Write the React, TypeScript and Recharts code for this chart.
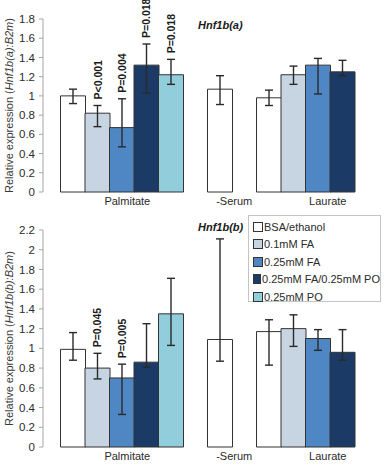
import React from "react";
import { BarChart, Bar, XAxis, YAxis, Cell, ErrorBar, LabelList } from "recharts";

const GROUPS = ["Palmitate", "-Serum", "Laurate"];
const SERIES_NAMES = ["BSA/ethanol", "0.1mM FA", "0.25mM FA", "0.25mM FA/0.25mM PO", "0.25mM PO"];

// Hnf1b(a)
const A_PALMITATE = [1.0, 0.82, 0.67, 1.32, 1.22];
const A_PALMITATE_LO = [0.92, 0.68, 0.47, 1.03, 1.12];
const A_PALMITATE_HI = [1.07, 0.9, 0.97, 1.54, 1.38];
const A_SERUM = [1.07];
const A_SERUM_LO = [0.91];
const A_SERUM_HI = [1.21];
const A_LAURATE = [0.98, 1.22, 1.32, 1.25];
const A_LAURATE_LO = [0.9, 1.12, 1.02, 1.21];
const A_LAURATE_HI = [1.06, 1.31, 1.39, 1.37];
const A_PVALUES = ["", "P<0.001", "P=0.004", "P=0.018", "P=0.018"];
const A_TICKS = [0, 0.2, 0.4, 0.6, 0.8, 1, 1.2, 1.4, 1.6, 1.8];

// Hnf1b(b)
const B_PALMITATE = [0.99, 0.8, 0.7, 0.86, 1.35];
const B_PALMITATE_LO = [0.88, 0.69, 0.33, 0.81, 1.03];
const B_PALMITATE_HI = [1.16, 0.95, 0.84, 1.25, 1.71];
const B_SERUM = [1.09];
const B_SERUM_LO = [0.87];
const B_SERUM_HI = [2.11];
const B_LAURATE = [1.17, 1.2, 1.1, 0.96];
const B_LAURATE_LO = [0.83, 1.02, 0.98, 0.88];
const B_LAURATE_HI = [1.29, 1.34, 1.19, 1.19];
const B_PVALUES = ["", "P=0.045", "P=0.005", "", ""];
const B_TICKS = [0, 0.2, 0.4, 0.6, 0.8, 1, 1.2, 1.4, 1.6, 1.8, 2, 2.2];

const COLORS = ["#ffffff", "#c7d5e3", "#4f86c4", "#1b3a65", "#92cddc"];
const FONT = '"Liberation Sans", Arial, sans-serif';
const AXIS_GREY = "#a6a6a6";
const INK = "#2b2b2b";

type Row = {
  slot: string;
  value?: number;
  err?: [number, number];
  hi?: number;
  series?: number;
  p?: string;
};

function buildRows(
  groups: { vals: number[]; lo: number[]; hi: number[]; p?: string[] }[]
) {
  const rows: Row[] = [];
  const centers: number[] = [];
  groups.forEach((g, gi) => {
    if (gi > 0) rows.push({ slot: `gap${gi}` });
    const start = rows.length;
    g.vals.forEach((v, i) => {
      rows.push({
        slot: `g${gi}s${i}`,
        value: v,
        err: [v - g.lo[i], g.hi[i] - v],
        hi: g.hi[i],
        series: i,
        p: g.p ? g.p[i] : "",
      });
    });
    centers.push(start + g.vals.length / 2);
  });
  return { rows, centers };
}

const topData = buildRows([
  { vals: A_PALMITATE, lo: A_PALMITATE_LO, hi: A_PALMITATE_HI, p: A_PVALUES },
  { vals: A_SERUM, lo: A_SERUM_LO, hi: A_SERUM_HI },
  { vals: A_LAURATE, lo: A_LAURATE_LO, hi: A_LAURATE_HI },
]);

const bottomData = buildRows([
  { vals: B_PALMITATE, lo: B_PALMITATE_LO, hi: B_PALMITATE_HI, p: B_PVALUES },
  { vals: B_SERUM, lo: B_SERUM_LO, hi: B_SERUM_HI },
  { vals: B_LAURATE, lo: B_LAURATE_LO, hi: B_LAURATE_HI },
]);

function YLabel({ viewBox, gene }: any) {
  const cy = viewBox.y + viewBox.height / 2;
  const x = 9;
  return (
    <text
      x={x}
      y={cy}
      transform={`rotate(-90, ${x}, ${cy})`}
      textAnchor="middle"
      dominantBaseline="central"
      fontSize={11}
      fontFamily={FONT}
      fill="#3a3a3a"
    >
      Relative expression (<tspan fontStyle="italic">{gene}:B2m</tspan>)
    </text>
  );
}

function PLabel(props: any) {
  const { x, y, width, height, value, index, rows } = props;
  if (!value) return null;
  const row: Row = rows[index];
  const base = y + height;
  const perUnit = height / (row.value as number);
  const top = base - (row.hi as number) * perUnit - 6;
  const cx = x + width / 2;
  return (
    <text
      x={cx}
      y={top}
      transform={`rotate(-90, ${cx}, ${top})`}
      textAnchor="start"
      dominantBaseline="central"
      fontSize={10.5}
      fontWeight="bold"
      fontFamily={FONT}
      fill="#1a1a1a"
    >
      {value}
    </text>
  );
}

function Panel({
  data,
  ticks,
  gene,
  width,
  height,
  margin,
}: {
  data: { rows: Row[]; centers: number[] };
  ticks: number[];
  gene: string;
  width: number;
  height: number;
  margin: { top: number; right: number; bottom: number; left: number };
}) {
  const { rows, centers } = data;
  const pad = { left: 17.5, right: 5.5 };
  return (
    <BarChart
      width={width}
      height={height}
      data={rows}
      margin={margin}
      barCategoryGap={0}
      barGap={0}
    >
      <XAxis xAxisId="slots" dataKey="slot" hide padding={pad} />
      <XAxis
        xAxisId="grp"
        type="number"
        domain={[0, rows.length]}
        allowDataOverflow
        ticks={centers}
        tickFormatter={(v: number) => GROUPS[centers.indexOf(v)] ?? ""}
        axisLine={false}
        tickLine={false}
        tickSize={0}
        tickMargin={5}
        height={18}
        padding={pad}
        tick={{ fontSize: 11, fill: INK, fontFamily: FONT }}
      />
      <YAxis
        domain={[0, ticks[ticks.length - 1]]}
        ticks={ticks}
        interval={0}
        width={43}
        tickSize={4}
        tickMargin={4}
        stroke={AXIS_GREY}
        tick={{ fontSize: 11.5, fill: INK, fontFamily: FONT }}
        label={{ content: (p: any) => <YLabel viewBox={p.viewBox} gene={gene} /> }}
      />
      <Bar
        xAxisId="slots"
        dataKey="value"
        stroke="#333"
        strokeWidth={1}
        isAnimationActive={false}
      >
        {rows.map((r, i) => (
          <Cell key={i} fill={r.series !== undefined ? COLORS[r.series] : "none"} />
        ))}
        <ErrorBar
          dataKey="err"
          direction="y"
          width={4}
          stroke="#2a2a2a"
          strokeWidth={1.4}
          isAnimationActive={false}
        />
        <LabelList dataKey="p" content={(p: any) => <PLabel {...p} rows={rows} />} />
      </Bar>
    </BarChart>
  );
}

function Legend() {
  return (
    <div
      style={{
        position: "absolute",
        left: 248,
        top: 215,
        width: 133,
        height: 87,
        border: "1px solid #c4c4c4",
        background: "#fff",
        fontFamily: FONT,
        fontSize: 11,
        color: INK,
        boxSizing: "border-box",
        paddingTop: 2,
      }}
    >
      {SERIES_NAMES.map((name, i) => (
        <div
          key={name}
          style={{ display: "flex", alignItems: "center", height: 17.5, paddingLeft: 4 }}
        >
          <span
            style={{
              display: "inline-block",
              width: 8,
              height: 8,
              border: "1px solid #333",
              background: COLORS[i],
              marginRight: 1,
            }}
          />
          <span style={{ whiteSpace: "nowrap" }}>{name}</span>
        </div>
      ))}
    </div>
  );
}

const titleStyle: React.CSSProperties = {
  position: "absolute",
  left: 198,
  fontFamily: FONT,
  fontSize: 11,
  fontWeight: "bold",
  fontStyle: "italic",
  color: "#1a1a1a",
  lineHeight: "12px",
};

export default function App() {
  return (
    <div style={{ position: "relative", width: 384, height: 465, background: "#fff" }}>
      <style>{`body{margin:0;background:#fff}`}</style>
      <div style={{ position: "absolute", left: 0, top: 0 }}>
        <Panel
          data={topData}
          ticks={A_TICKS}
          gene="Hnf1b(a)"
          width={384}
          height={215}
          margin={{ top: 19, right: 24, bottom: 5, left: 0 }}
        />
      </div>
      <div style={{ position: "absolute", left: 0, top: 215 }}>
        <Panel
          data={bottomData}
          ticks={B_TICKS}
          gene="Hnf1b(b)"
          width={384}
          height={250}
          margin={{ top: 15, right: 24, bottom: 0, left: 0 }}
        />
      </div>
      <div style={{ ...titleStyle, top: 19 }}>Hnf1b(a)</div>
      <div style={{ ...titleStyle, top: 221 }}>Hnf1b(b)</div>
      <Legend />
    </div>
  );
}
